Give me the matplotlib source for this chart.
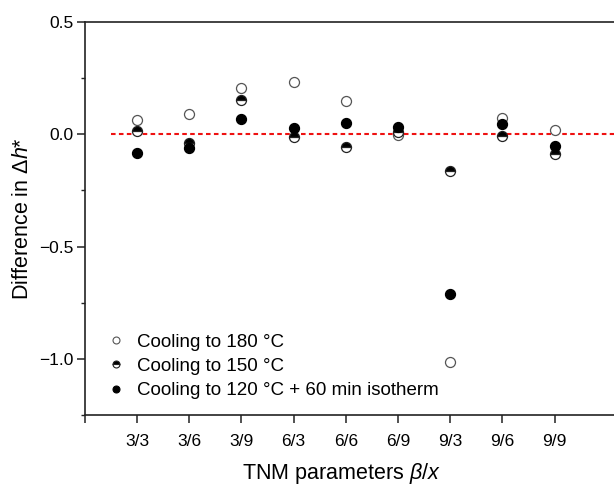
import matplotlib
matplotlib.use("Agg")
import matplotlib.pyplot as plt
from matplotlib.ticker import FixedLocator
from matplotlib.lines import Line2D

plt.rcParams["font.family"] = ["Liberation Sans", "DejaVu Sans"]
plt.rcParams["mathtext.fontset"] = "custom"
plt.rcParams["mathtext.rm"] = "Liberation Sans"
plt.rcParams["mathtext.it"] = "Liberation Sans:italic"

# TNM parameter combinations beta/x
params = ["3/3", "3/6", "3/9", "6/3", "6/6", "6/9", "9/3", "9/6", "9/9"]

# Difference in reduced enthalpy for each cooling protocol
cool_180 = [0.062, 0.091, 0.204, 0.233, 0.146, -0.003, -1.012, 0.073, 0.018]
cool_150 = [0.013, -0.037, 0.153, -0.013, -0.055, 0.010, -0.164, -0.008, -0.086]
cool_120_iso = [-0.082, -0.063, 0.070, 0.027, 0.052, 0.034, -0.713, 0.046, -0.051]

labels = ["Cooling to 180 \u00b0C", "Cooling to 150 \u00b0C",
          "Cooling to 120 \u00b0C + 60 min isotherm"]

x = list(range(1, len(params) + 1))

fig = plt.figure(figsize=(6.14, 4.88), dpi=100)
ax = fig.add_axes([0.1384, 0.1496, 0.8616, 0.8054])

ax.axhline(0.0, xmin=0.5 / 10.14, xmax=1.0, color="#ee1111", lw=1.5,
           ls=(0, (2.2, 1.6)), zorder=1)

ms = 7.2
ax.plot(x, cool_180, ls="none", marker="o", ms=ms, mfc="white",
        mec="#555555", mew=0.9, zorder=3)
ax.plot(x, cool_150, ls="none", marker="o", ms=ms, fillstyle="top",
        mfc="black", mfcalt="white", mec="#222222", mew=0.9, zorder=4)
ax.plot(x, cool_120_iso, ls="none", marker="o", ms=ms, mfc="black",
        mec="black", mew=0.9, zorder=5)

ax.set_xlim(0, 10.14)
ax.set_ylim(-1.25, 0.5)

ax.xaxis.set_major_locator(FixedLocator(list(range(0, len(params) + 1))))
ax.set_xticklabels([""] + params)
ax.set_yticks([-1.0, -0.5, 0.0, 0.5])
ax.set_yticklabels(["\u22121.0", "\u22120.5", "0.0", "0.5"])
ax.set_yticks([-1.25, -0.75, -0.25, 0.25], minor=True)

ax.tick_params(axis="both", which="major", direction="out", length=6,
               width=1.1, labelsize=12.5, color="#222222")
ax.tick_params(axis="y", which="minor", direction="out", length=3,
               width=1.0, color="#222222")
ax.tick_params(axis="x", which="major", pad=8)
ax.tick_params(axis="y", which="major", pad=2)

for side in ["left", "bottom", "top"]:
    ax.spines[side].set_linewidth(1.2)
    ax.spines[side].set_color("#222222")
ax.spines["right"].set_visible(False)

ax.set_xlabel(r"TNM parameters $\mathit{\beta}$/$\mathit{x}$", fontsize=15.5,
              labelpad=8.5)
ax.xaxis.label.set_x(0.484)
ax.set_ylabel(r"Difference in $\mathit{\Delta h}$*", fontsize=15.5,
              labelpad=5)

handles = [
    Line2D([], [], ls="none", marker="o", ms=5.0, mfc="white", mec="#555555",
           mew=0.8),
    Line2D([], [], ls="none", marker="o", ms=5.0, fillstyle="top", mfc="black",
           mfcalt="white", mec="#222222", mew=0.8),
    Line2D([], [], ls="none", marker="o", ms=5.0, mfc="black", mec="black",
           mew=0.8),
]
ax.legend(handles, labels, loc="lower left", bbox_to_anchor=(0.048, 0.04),
          frameon=False, fontsize=13.5, handlelength=0.6, handletextpad=0.8,
          labelspacing=0.38, borderpad=0.0, borderaxespad=0.0)

fig.savefig("out.png", dpi=100)
